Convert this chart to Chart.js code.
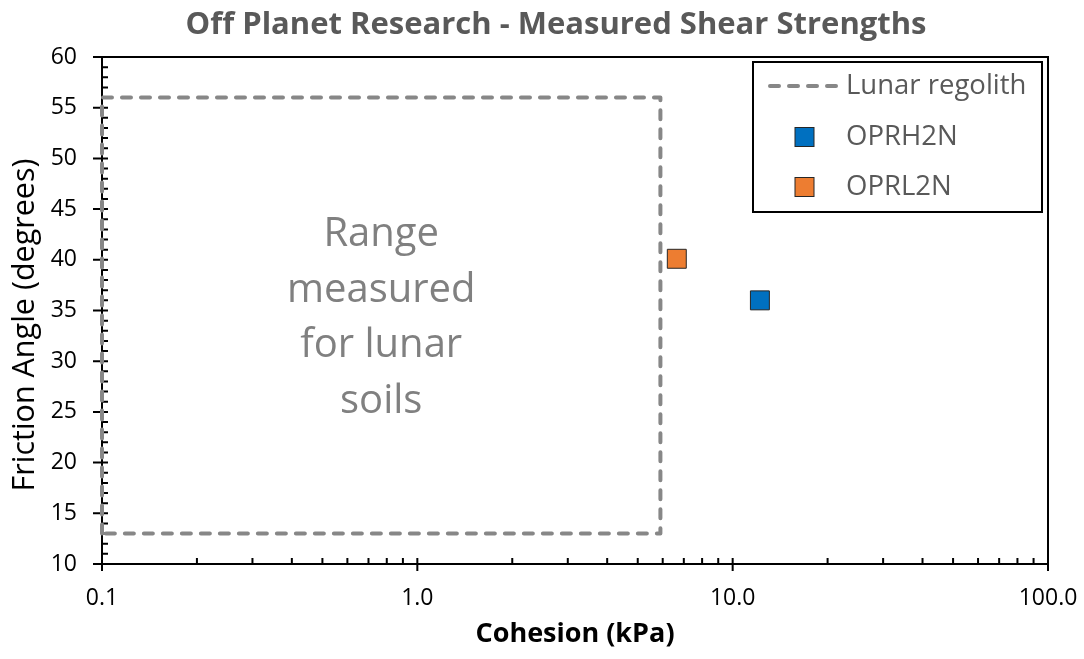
<!DOCTYPE html>
<html>

<head>
    <title>Measured Shear Strengths</title>
    <script src="https://cdn.jsdelivr.net/npm/chart.js"></script>
    <style>
        body {
            margin: 0;
            background: #fff;
        }
    </style>
</head>

<body>
    <canvas id="shearChart" width="1084" height="659"></canvas>

    <script>
const chartTitle = "Off Planet Research - Measured Shear Strengths";
const yTitle = "Friction Angle (degrees)";
const rangeText = ["Range", "measured", "for lunar", "soils"];

// lunar regolith range box (cohesion kPa, friction angle deg)
const regolithCohesion = [0.1, 0.1, 5.9, 5.9, 0.1];
const regolithFriction = [13, 56, 56, 13, 13];

// measured samples
const oprh2nCohesion = [12.2];
const oprh2nFriction = [36.0];
const oprl2nCohesion = [6.65];
const oprl2nFriction = [40.1];

const xTickValues = [0.1, 1, 10, 100];
const yMin = 10, yMax = 60, yStep = 5;

const FONT = "'Open Sans', sans-serif";

function toPoints(xs, ys) {
    return xs.map((x, i) => ({ x: x, y: ys[i] }));
}

// axes frame, ticks, titles and the range note
const framePlugin = {
    id: 'frame',
    beforeDatasetsDraw(chart) {
        const { ctx, chartArea: a, scales: { x, y } } = chart;
        ctx.save();
        ctx.strokeStyle = '#000';
        ctx.lineWidth = 2;
        ctx.beginPath();
        for (let v = yMin; v <= yMax; v += 1) {
            const py = y.getPixelForValue(v);
            if (v % yStep === 0) {
                ctx.moveTo(a.left - 9, py);
            } else {
                ctx.moveTo(a.left, py);
            }
            ctx.lineTo(a.left + 6, py);
        }
        xTickValues.forEach((d, i) => {
            const px = x.getPixelForValue(d);
            ctx.moveTo(px, a.bottom + 7);
            ctx.lineTo(px, a.bottom - 6);
            if (i < xTickValues.length - 1) {
                for (let k = 2; k <= 9; k++) {
                    const mx = x.getPixelForValue(d * k);
                    ctx.moveTo(mx, a.bottom);
                    ctx.lineTo(mx, a.bottom - 6);
                }
            }
        });
        ctx.stroke();
        ctx.strokeRect(a.left, a.top, a.right - a.left, a.bottom - a.top);

        // note inside the range box
        ctx.fillStyle = '#808080';
        ctx.font = '40px ' + FONT;
        ctx.textAlign = 'center';
        ctx.textBaseline = 'alphabetic';
        const cx = x.getPixelForValue(Math.sqrt(regolithCohesion[0] * regolithCohesion[2]));
        const cy = y.getPixelForValue(34.5);
        rangeText.forEach((line, i) => {
            ctx.fillText(line, cx, cy + (i - 1.5) * 55.5 + 14);
        });

        // chart title
        ctx.fillStyle = '#595959';
        ctx.font = 'bold 31px ' + FONT;
        ctx.textBaseline = 'alphabetic';
        ctx.fillText(chartTitle, 556, 34);

        // y axis title
        ctx.fillStyle = '#000';
        ctx.font = '30.5px ' + FONT;
        ctx.translate(34, 325);
        ctx.rotate(-Math.PI / 2);
        ctx.fillText(yTitle, 0, 0);
        ctx.restore();
    },
    afterDatasetsDraw(chart) {
        const { ctx } = chart;
        const ds = chart.data.datasets;
        ctx.save();
        ctx.fillStyle = '#fff';
        ctx.strokeStyle = '#000';
        ctx.lineWidth = 2;
        ctx.fillRect(753, 62, 289, 150);
        ctx.strokeRect(753, 62, 289, 150);

        ctx.font = '27.5px ' + FONT;
        ctx.textAlign = 'left';
        ctx.textBaseline = 'middle';

        // dashed line entry
        ctx.strokeStyle = ds[0].borderColor;
        ctx.lineWidth = ds[0].borderWidth;
        ctx.lineCap = 'round';
        ctx.setLineDash(ds[0].borderDash);
        ctx.beginPath();
        ctx.moveTo(770, 86);
        ctx.lineTo(838, 86);
        ctx.stroke();
        ctx.setLineDash([]);
        ctx.fillStyle = '#595959';
        ctx.fillText(ds[0].label, 846, 86);

        [1, 2].forEach((k, i) => {
            const yy = 137 + i * 50;
            ctx.fillStyle = ds[k].backgroundColor;
            ctx.strokeStyle = ds[k].borderColor;
            ctx.lineWidth = 1;
            ctx.fillRect(795, yy - 9.5, 19, 19);
            ctx.strokeRect(795, yy - 9.5, 19, 19);
            ctx.fillStyle = '#595959';
            ctx.fillText(ds[k].label, 846, yy);
        });
        ctx.restore();
    }
};

new Chart(document.getElementById('shearChart'), {
    type: 'scatter',
    data: {
        datasets: [
            {
                label: 'Lunar regolith',
                data: toPoints(regolithCohesion, regolithFriction),
                showLine: true,
                borderColor: '#878787',
                borderWidth: 4,
                borderDash: [9, 10],
                borderCapStyle: 'round',
                borderJoinStyle: 'round',
                pointRadius: 0,
                clip: false,
                order: 2
            },
            {
                label: 'OPRH2N',
                data: toPoints(oprh2nCohesion, oprh2nFriction),
                pointStyle: 'rect',
                pointRadius: 13.4,
                backgroundColor: '#0070C0',
                borderColor: '#262626',
                borderWidth: 1,
                order: 1
            },
            {
                label: 'OPRL2N',
                data: toPoints(oprl2nCohesion, oprl2nFriction),
                pointStyle: 'rect',
                pointRadius: 13.4,
                backgroundColor: '#ED7D31',
                borderColor: '#262626',
                borderWidth: 1,
                order: 1
            }
        ]
    },
    options: {
        responsive: false,
        animation: false,
        layout: {
            padding: { top: 57, right: 36, left: 0, bottom: 0 }
        },
        plugins: {
            legend: { display: false },
            title: { display: false },
            tooltip: { enabled: false }
        },
        scales: {
            x: {
                type: 'logarithmic',
                min: 0.1,
                max: 100,
                afterBuildTicks: scale => {
                    scale.ticks = xTickValues.map(v => ({ value: v }));
                },
                afterFit: scale => {
                    scale.height = 95;
                    scale.paddingLeft = 0;
                    scale.paddingRight = 0;
                },
                grid: { display: false, drawTicks: false, tickLength: 0 },
                border: { display: false },
                ticks: {
                    autoSkip: false,
                    maxRotation: 0,
                    padding: 21,
                    color: '#000',
                    font: { family: FONT, size: 23 },
                    callback: v => Number(v).toFixed(1)
                },
                title: {
                    display: true,
                    text: 'Cohesion (kPa)',
                    color: '#000',
                    font: { family: FONT, size: 27, weight: 'bold' },
                    padding: { top: 0, bottom: 8 }
                }
            },
            y: {
                min: yMin,
                max: yMax,
                afterFit: scale => {
                    scale.width = 102;
                    scale.paddingTop = 0;
                    scale.paddingBottom = 0;
                },
                grid: { display: false, drawTicks: false, tickLength: 0 },
                border: { display: false },
                ticks: {
                    stepSize: yStep,
                    padding: 25,
                    color: '#000',
                    font: { family: FONT, size: 23 }
                }
            }
        }
    },
    plugins: [framePlugin]
});
    </script>
</body>

</html>
